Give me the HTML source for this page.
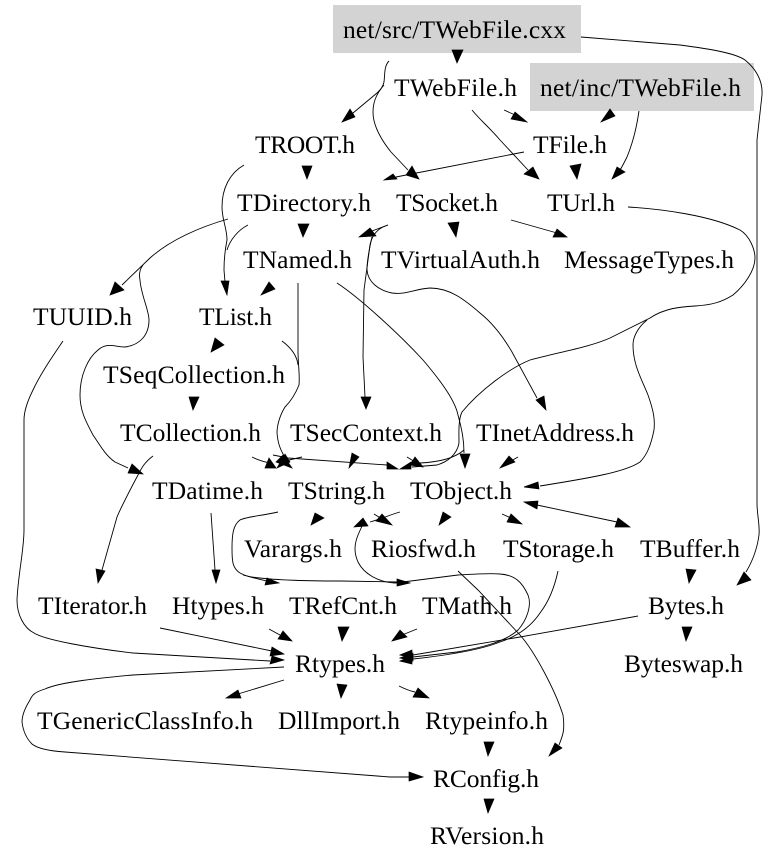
<!DOCTYPE html>
<html><head><meta charset="utf-8"><style>
html,body{margin:0;padding:0;background:#fff}
svg{display:block}
text{font-family:"Liberation Serif",serif;font-size:25.5px;fill:#000}
</style></head><body>
<svg width="779" height="865" viewBox="0 0 779 865" xmlns="http://www.w3.org/2000/svg">
<rect width="779" height="865" fill="#fff"/>
<rect x="333" y="5" width="248" height="48" fill="#d3d3d3"/>
<rect x="530" y="63" width="224" height="48" fill="#d3d3d3"/>
<g fill="none" stroke="#000" stroke-width="0.9">
<path d="M389 61C384 66 385 74 384 82C383 87 380 90 377 93L347 118"/>
<path d="M384 85C378 92 373 100 373 112C373 127 383 142 391 152L408 170"/>
<path d="M581 37L680 45C710 49 735 53 745 60C755 68 763 80 762 95L757 140V503C757 515 760 525 759 535C757 550 752 562 746 572"/>
<path d="M504 110L515 115"/>
<path d="M472 110C480 120 490 128 500 140L528 170"/>
<path d="M639 111C637 125 634 140 627 157C624 163 622 167 620 170"/>
<path d="M524 152L396 177"/>
<path d="M244 165C230 173 222 188 222 207C222 220 227 228 227 240C225 250 224 260 224 270L225 282"/>
<path d="M248 225C238 230 230 240 227 250"/>
<path d="M228 219C200 227 170 240 150 258L122 285"/>
<path d="M143 265C139 270 139 275 140 280C141 295 149 310 149 320C149 335 140 345 125 347C115 347 107 342 98 350C88 358 80 375 80 395C80 410 85 420 93 435C100 445 105 455 115 462L128 468"/>
<path d="M388 225L372 231"/>
<path d="M388 225C378 228 372 235 370 245L364 290L363 357L365 397"/>
<path d="M372 237C369 250 367 262 367 270C368 282 378 290 392 293C405 295 415 289 430 288C450 288 465 300 480 313C495 325 505 340 512 352L537 398"/>
<path d="M511 220L557 233"/>
<path d="M628 207C660 209 710 215 740 230C750 236 755 250 755 258C755 270 745 285 733 295C722 302 712 305 695 306C680 307 665 308 650 318L610 338C590 347 560 352 530 360C510 368 480 390 462 412C458 420 459 435 459 443C457 455 447 462 437 465L412 467"/>
<path d="M464 450C455 458 440 462 420 463"/>
<path d="M647 320C637 328 633 338 633 345C633 365 642 380 648 395C654 412 655 420 654 430C651 445 647 455 640 462C625 472 590 478 540 486"/>
<path d="M337 283C360 298 400 335 423 360C440 380 455 400 458 415C462 430 464 440 464 453"/>
<path d="M298 283V350C298 365 300 375 299 385C295 395 290 402 285 407C280 415 277 425 277 433C278 445 281 450 284 456"/>
<path d="M282 341C290 347 297 355 298 365"/>
<path d="M153 456C145 462 142 467 138 475C130 490 122 505 117 517L102 570"/>
<path d="M252 457C258 460 265 462 270 463"/>
<path d="M273 455L288 458L387 465"/>
<path d="M302 457L289 460"/>
<path d="M407 457L415 462"/>
<path d="M518 457L511 461"/>
<path d="M278 512C260 516 245 517 240 520C233 525 232 535 232 548C232 560 232 568 240 573C247 577 255 578 267 581"/>
<path d="M243 575C260 580 300 581 340 581L397 582"/>
<path d="M370 522C384 518 392 514 400 512"/>
<path d="M362 526L358 535C354 545 354 553 358 562C364 574 378 582 395 583L458 575C475 574 490 573 500 574C515 575 522 582 528 595C532 605 527 620 518 630C505 642 480 648 457 652L413 657"/>
<path d="M558 571C555 585 550 600 540 613C530 628 515 637 500 642C480 650 450 655 413 659"/>
<path d="M638 616L520 637L413 655"/>
<path d="M374 514L382 519"/>
<path d="M502 514L511 518"/>
<path d="M537 505L617 522"/>
<path d="M458 571L478 590L520 635C535 652 555 690 563 715C565 730 563 735 559 745"/>
<path d="M417 629L402 635"/>
<path d="M269 629L280 635"/>
<path d="M160 628L272 651"/>
<path d="M63 341C50 360 40 375 33 390C28 400 24 410 24 420V530C24 550 18 575 17 600C17 615 24 628 34 633C45 640 90 648 133 653L270 661"/>
<path d="M284 667L133 675C100 678 60 682 45 689C35 692 32 695 30 700C25 708 22 715 22 722C23 730 26 738 32 744C38 749 50 751 65 752L390 777H410"/>
<path d="M284 680L238 694"/>
<path d="M399 686C405 689 410 691 415 692"/>
<path d="M211 513L215 570"/>
</g>
<g fill="#000" stroke="#000" stroke-width="0.7">
<polygon points="452,50 463,50 457,63"/>
<polygon points="342,122 350,109 355,117"/>
<polygon points="419,179 412,166 406,175"/>
<polygon points="527,122 515,112 511,119"/>
<polygon points="539,179 533,167 524,174"/>
<polygon points="601,122 610,109 615,116"/>
<polygon points="612,179 617,167 625,172"/>
<polygon points="384,180 393,174 397,179"/>
<polygon points="737,585 744,572 751,580"/>
<polygon points="307,179 302,166 312,166"/>
<polygon points="577,179 570,166 581,164"/>
<polygon points="227,295 221,281 229,281"/>
<polygon points="303,237 298,224 309,224"/>
<polygon points="110,295 115,282 124,290"/>
<polygon points="143,474 132,464 128,473"/>
<polygon points="359,237 370,228 376,236"/>
<polygon points="366,409 361,397 371,397"/>
<polygon points="546,410 536,400 544,396"/>
<polygon points="456,237 448,223 459,222"/>
<polygon points="567,237 557,229 553,237"/>
<polygon points="524,487 538,482 539,489"/>
<polygon points="261,295 269,282 275,289"/>
<polygon points="276,468 269,458 265,468"/>
<polygon points="277,468 285,454 290,462"/>
<polygon points="292,468 283,455 276,462"/>
<polygon points="349,468 352,453 359,457"/>
<polygon points="398,469 387,462 387,469"/>
<polygon points="400,469 411,462 411,469"/>
<polygon points="423,467 415,457 410,465"/>
<polygon points="465,468 460,454 470,454"/>
<polygon points="500,468 509,456 515,462"/>
<polygon points="211,352 215,338 224,345"/>
<polygon points="193,410 189,397 199,397"/>
<polygon points="98,583 96,569 105,571"/>
<polygon points="311,525 315,513 324,518"/>
<polygon points="279,583 267,578 265,585"/>
<polygon points="410,583 397,579 397,586"/>
<polygon points="354,527 363,518 368,526"/>
<polygon points="392,525 382,514 376,521"/>
<polygon points="439,525 443,512 451,517"/>
<polygon points="522,524 511,514 507,522"/>
<polygon points="524,502 538,501 537,509"/>
<polygon points="630,527 618,518 615,527"/>
<polygon points="689,583 686,569 696,570"/>
<polygon points="216,583 212,570 220,570"/>
<polygon points="549,756 555,743 562,748"/>
<polygon points="400,655 412,650 412,658"/>
<polygon points="400,658 413,653 413,661"/>
<polygon points="400,661 412,656 412,664"/>
<polygon points="392,641 400,630 407,637"/>
<polygon points="342,641 338,627 349,627"/>
<polygon points="292,641 283,631 278,639"/>
<polygon points="284,654 272,647 270,656"/>
<polygon points="284,660 272,656 270,664"/>
<polygon points="423,777 409,772 409,781"/>
<polygon points="226,698 238,690 241,698"/>
<polygon points="341,698 337,684 347,685"/>
<polygon points="429,698 418,688 413,697"/>
<polygon points="488,756 484,742 494,742"/>
<polygon points="488,813 484,799 494,799"/>
<polygon points="686,641 682,627 692,627"/>
</g>
<g>
<text x="343" y="38" textLength="223">net/src/TWebFile.cxx</text>
<text x="394" y="96" textLength="123">TWebFile.h</text>
<text x="540" y="96" textLength="201">net/inc/TWebFile.h</text>
<text x="255" y="153" textLength="100">TROOT.h</text>
<text x="533" y="153" textLength="74">TFile.h</text>
<text x="237" y="211" textLength="134">TDirectory.h</text>
<text x="396" y="211" textLength="102">TSocket.h</text>
<text x="547" y="211" textLength="68">TUrl.h</text>
<text x="243" y="268" textLength="109">TNamed.h</text>
<text x="381" y="268" textLength="159">TVirtualAuth.h</text>
<text x="564" y="268" textLength="170">MessageTypes.h</text>
<text x="33" y="325" textLength="99">TUUID.h</text>
<text x="199" y="325" textLength="73">TList.h</text>
<text x="103" y="383" textLength="182">TSeqCollection.h</text>
<text x="120" y="441" textLength="141">TCollection.h</text>
<text x="290" y="441" textLength="152">TSecContext.h</text>
<text x="476" y="441" textLength="158">TInetAddress.h</text>
<text x="152" y="499" textLength="111">TDatime.h</text>
<text x="288" y="499" textLength="97">TString.h</text>
<text x="410" y="499" textLength="102">TObject.h</text>
<text x="244" y="557" textLength="98">Varargs.h</text>
<text x="371" y="557" textLength="105">Riosfwd.h</text>
<text x="503" y="557" textLength="111">TStorage.h</text>
<text x="640" y="557" textLength="100">TBuffer.h</text>
<text x="38" y="614" textLength="109">TIterator.h</text>
<text x="172" y="614" textLength="92">Htypes.h</text>
<text x="289" y="614" textLength="108">TRefCnt.h</text>
<text x="422" y="614" textLength="90">TMath.h</text>
<text x="648" y="614" textLength="76">Bytes.h</text>
<text x="295" y="672" textLength="90">Rtypes.h</text>
<text x="624" y="672" textLength="119">Byteswap.h</text>
<text x="37" y="729" textLength="216">TGenericClassInfo.h</text>
<text x="278" y="729" textLength="122">DllImport.h</text>
<text x="425" y="729" textLength="123">Rtypeinfo.h</text>
<text x="433" y="787" textLength="106">RConfig.h</text>
<text x="430" y="844" textLength="114">RVersion.h</text>
</g>
</svg>
</body></html>
